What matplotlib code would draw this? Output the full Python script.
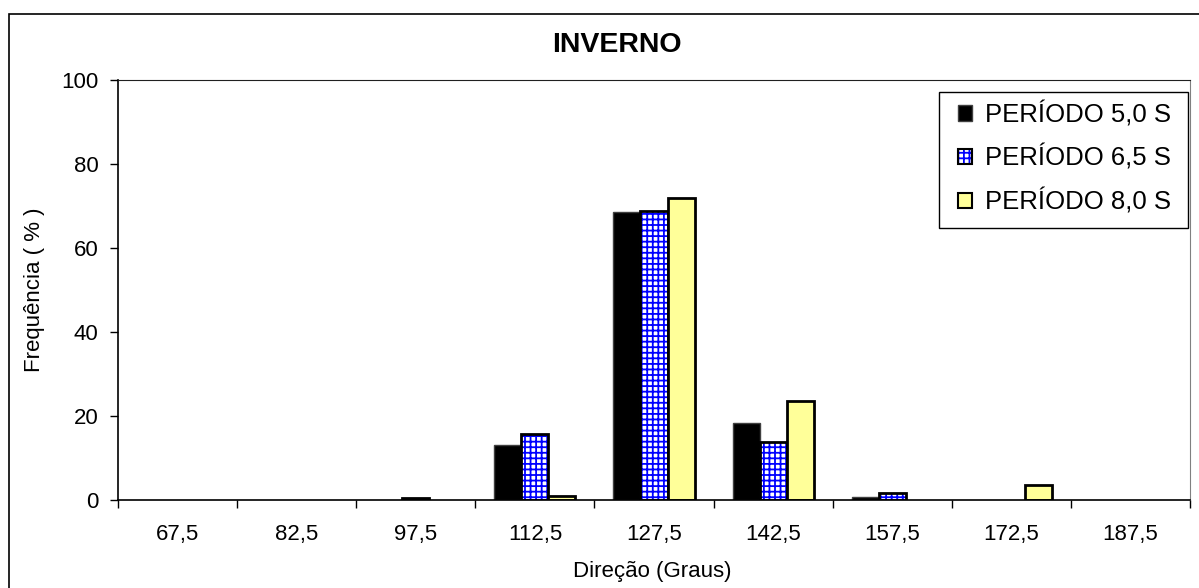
import numpy as np
import matplotlib
matplotlib.use('Agg')
from matplotlib import pyplot as plt
from matplotlib.patches import Rectangle, Patch
from matplotlib.legend_handler import HandlerTuple

# Direction classes (degrees) and frequency (%) per wave period
directions = ['67,5', '82,5', '97,5', '112,5', '127,5', '142,5', '157,5', '172,5', '187,5']
periodo_50 = [0, 0, 0, 13.0, 68.5, 18.3, 0.7, 0, 0]
periodo_65 = [0, 0, 0.5, 15.7, 68.7, 13.8, 1.7, 0, 0]
periodo_80 = [0, 0, 0, 1.0, 71.9, 23.6, 0, 3.6, 0]
labels = ['PERÍODO 5,0 S', 'PERÍODO 6,5 S', 'PERÍODO 8,0 S']

plt.rcParams['font.family'] = ['Liberation Sans', 'DejaVu Sans']
plt.rcParams['hatch.linewidth'] = 1.3


def widths(vals, lw):
    # no outline for empty classes
    return [lw if v > 0 else 0 for v in vals]


fig = plt.figure(figsize=(11.99, 5.88), dpi=100)
ax = fig.add_axes([118/1199, 88/588, (1190-118)/1199, (500-80)/588])

x = np.arange(len(directions))
w = 0.227

# Black bars
ax.bar(x - w, periodo_50, w, color='black', edgecolor='#404040',
       linewidth=widths(periodo_50, 1))
# Blue dotted pattern: hatch layer then a black outline on top
ax.bar(x, periodo_65, w, color='white', edgecolor='#0000ff', hatch='+++', linewidth=0)
ax.bar(x, periodo_65, w, fill=False, edgecolor='black',
       linewidth=widths(periodo_65, 2))
# Light yellow bars
ax.bar(x + w, periodo_80, w, color='#ffff99', edgecolor='black',
       linewidth=widths(periodo_80, 2))

ax.set_xlim(-0.5, len(directions) - 0.5)
ax.set_ylim(0, 100)
ax.set_yticks([0, 20, 40, 60, 80, 100])

# ticks at category boundaries, labels at category centres
ax.set_xticks(np.arange(-0.5, len(directions)), [''] * (len(directions) + 1))
ax.set_xticks(x, directions, minor=True)
ax.tick_params(axis='x', which='major', direction='out', length=6, width=1)
ax.tick_params(axis='x', which='minor', length=0, pad=17, labelsize=16)
ax.tick_params(axis='y', direction='out', length=6, width=1, pad=8, labelsize=16)

for side in ['left', 'bottom']:
    ax.spines[side].set_color('black')
    ax.spines[side].set_linewidth(1.2)
ax.spines['top'].set_color('#202020')
ax.spines['right'].set_color('#808080')

fig.text(617/1199, 1 - 45/588, 'INVERNO', ha='center', va='center',
         fontsize=20.5, fontweight='bold')
fig.text(35/1199, 1 - 290/588, 'Frequência ( % )', rotation=90,
         ha='center', va='center', fontsize=16)
fig.text(652/1199, 1 - 572/588, 'Direção (Graus)', ha='center', va='center',
         fontsize=16)

# Legend box drawn by hand, entries placed inside it
fig.add_artist(Rectangle((939/1199, 1 - 228/588), (1188-939)/1199, 136/588,
                         transform=fig.transFigure, facecolor='white',
                         edgecolor='black', linewidth=1, zorder=4))
h_black = Patch(facecolor='black', edgecolor='#404040')
h_blue = (Patch(facecolor='white', edgecolor='#0000ff', hatch='+++', linewidth=0),
          Patch(fill=False, edgecolor='black', linewidth=1.5))
h_yellow = Patch(facecolor='#ffff99', edgecolor='black', linewidth=1.5)
leg = fig.legend([h_black, h_blue, h_yellow], labels,
                 handler_map={tuple: HandlerTuple(ndivide=1, pad=0)},
                 loc='upper left', bbox_to_anchor=(958/1199, 1 - 101/588),
                 fontsize=18.5, frameon=False,
                 handlelength=0.55, handleheight=0.55, handletextpad=0.5,
                 labelspacing=0.69, borderpad=0, borderaxespad=0)
leg.set_zorder(5)

# outer chart border
fig.add_artist(Rectangle((9/1199, -0.1), 1.2, (1 - 14/588) + 0.1,
                         transform=fig.transFigure, fill=False,
                         edgecolor='black', linewidth=1.2))

fig.savefig('out.png', dpi=100)
